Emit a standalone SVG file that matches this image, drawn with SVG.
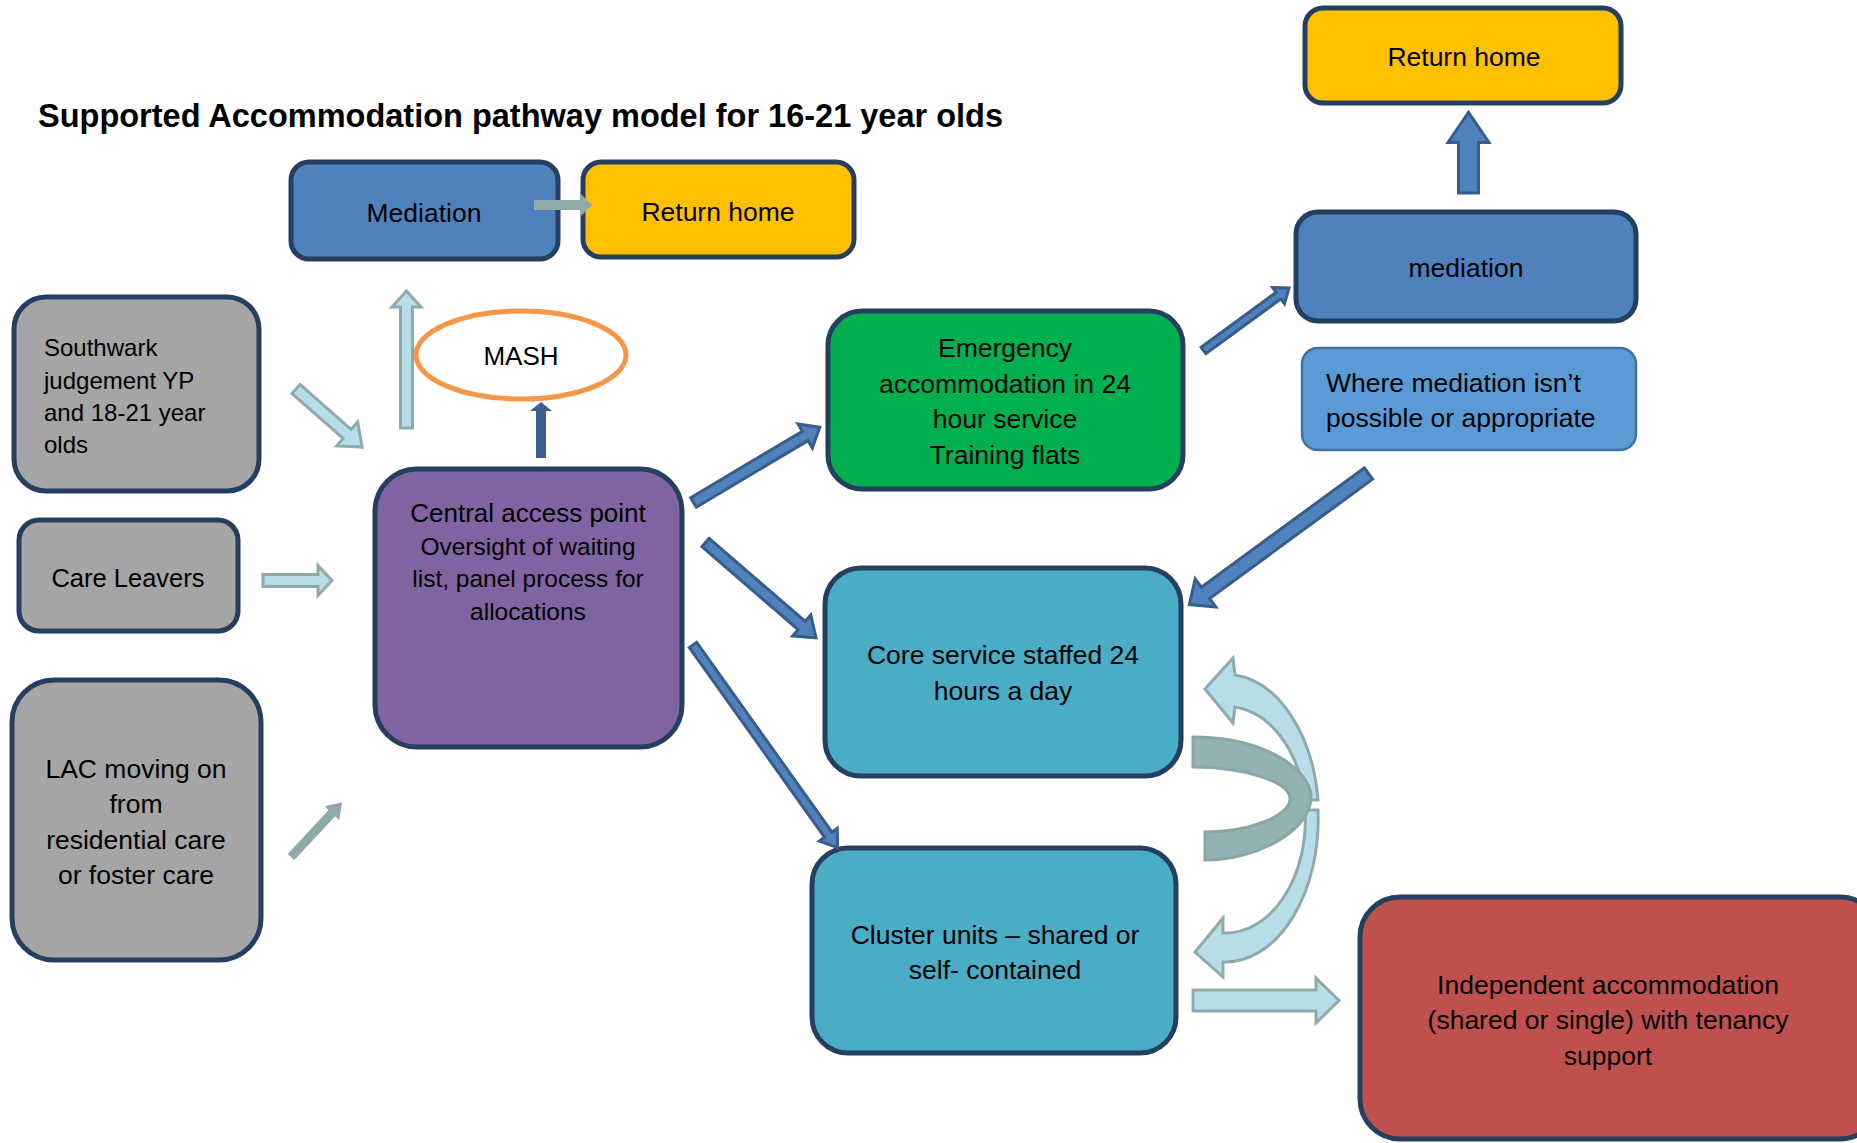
<svg xmlns="http://www.w3.org/2000/svg" width="1857" height="1143" viewBox="0 0 1857 1143">
<style>
.box{stroke:#243F60;stroke-width:5}
.t{font-family:"Liberation Sans",Arial,sans-serif;font-size:26.5px;fill:#000}
.c{text-anchor:middle}
.s24{font-size:24px}
.s245{font-size:24.5px}
.s255{font-size:25.5px}
.s26{font-size:26px}
.light{fill:#B7DEE8;stroke:#8FAAAB;stroke-width:3;stroke-linejoin:miter}
.blue{fill:#4F81BD;stroke:#385D8A;stroke-width:3;stroke-linejoin:miter}
.navy{fill:#3B5E8C}
.gray{fill:#8EA9AA}
.band{fill:#95B2B3;stroke:#8AA6A7;stroke-width:3}
</style>
<rect width="1857" height="1143" fill="#FFFFFF"/>
<text x="38" y="127" font-family="Liberation Sans,Arial,sans-serif" font-weight="bold" font-size="32.5">Supported Accommodation pathway model for 16-21 year olds</text>

<g id="node-mediation-left">
<rect class="box" x="291" y="162" width="267" height="97" rx="18" fill="#4F81BD"/>
<text class="t c" x="424" y="222">Mediation</text>
</g>
<g id="node-return-home-left">
<rect class="box" x="583" y="162" width="271" height="95" rx="18" fill="#FFC000"/>
<text class="t c" x="718" y="221">Return home</text>
</g>
<g id="node-return-home-right">
<rect class="box" x="1305" y="8" width="316" height="95" rx="18" fill="#FFC000"/>
<text class="t c" x="1464" y="66">Return home</text>
</g>
<g id="node-mediation-right">
<rect class="box" x="1296" y="212" width="340" height="109" rx="22" fill="#4F81BD"/>
<text class="t c" x="1466" y="277">mediation</text>
</g>
<g id="node-where-mediation">
<rect x="1302" y="348" width="334" height="102" rx="16" fill="#5B9BD5" stroke="#41719C" stroke-width="2.5"/>
<text class="t" x="1326" y="392">Where mediation isn’t</text>
<text class="t" x="1326" y="427">possible or appropriate</text>
</g>
<g id="node-southwark">
<rect class="box" x="14" y="297" width="245" height="194" rx="32" fill="#A5A5A5"/>
<text class="t s24" x="44" y="356">Southwark</text>
<text class="t s24" x="44" y="389">judgement YP</text>
<text class="t s24" x="44" y="421">and 18-21 year</text>
<text class="t s24" x="44" y="453">olds</text>
</g>
<g id="node-care-leavers">
<rect class="box" x="19" y="520" width="219" height="111" rx="20" fill="#A5A5A5"/>
<text class="t c s255" x="128" y="587">Care Leavers</text>
</g>
<g id="node-lac">
<rect class="box" x="12" y="680" width="249" height="280" rx="42" fill="#A5A5A5"/>
<text class="t c" x="136" y="778">LAC moving on</text>
<text class="t c" x="136" y="813">from</text>
<text class="t c" x="136" y="849">residential care</text>
<text class="t c" x="136" y="884">or foster care</text>
</g>
<g id="node-mash">
<ellipse cx="521" cy="355" rx="105" ry="44" fill="#FFFFFF" stroke="#F79646" stroke-width="5"/>
<text class="t c s26" x="521" y="365">MASH</text>
</g>
<g id="node-central">
<rect class="box" x="375" y="469" width="307" height="278" rx="42" fill="#8064A2"/>
<text class="t c s26" x="528" y="522">Central access point</text>
<text class="t c s245" x="528" y="555">Oversight of waiting</text>
<text class="t c s245" x="528" y="587">list, panel process for</text>
<text class="t c s245" x="528" y="620">allocations</text>
</g>
<g id="node-emergency">
<rect class="box" x="828" y="311" width="355" height="178" rx="34" fill="#00B050"/>
<text class="t c" x="1005" y="357">Emergency</text>
<text class="t c" x="1005" y="393">accommodation in 24</text>
<text class="t c" x="1005" y="428">hour service</text>
<text class="t c" x="1005" y="464">Training flats</text>
</g>
<g id="node-core">
<rect class="box" x="825" y="568" width="356" height="208" rx="36" fill="#4BACC6"/>
<text class="t c" x="1003" y="664">Core service staffed 24</text>
<text class="t c" x="1003" y="700">hours a day</text>
</g>
<g id="node-cluster">
<rect class="box" x="812" y="848" width="364" height="205" rx="36" fill="#4BACC6"/>
<text class="t c" x="995" y="944">Cluster units – shared or</text>
<text class="t c" x="995" y="979">self- contained</text>
</g>
<g id="node-independent">
<rect class="box" x="1360" y="897" width="520" height="242" rx="40" fill="#C0504D"/>
<text class="t c" x="1608" y="994">Independent accommodation</text>
<text class="t c" x="1608" y="1029">(shared or single) with tenancy</text>
<text class="t c" x="1608" y="1065">support</text>
</g>

<g id="connectors">
<polygon class="gray" points="0,-5 47,-5 47,-11 58,0 47,11 47,5 0,5" transform="translate(534,205)"/>
<polygon class="light" points="0,-6 68,-6 68,-16 88,0 68,16 68,6 0,6" transform="translate(296,389) rotate(41.3)"/>
<polygon class="light" points="0,-6 55,-6 55,-15 69,0 55,15 55,6 0,6" transform="translate(263,580.5)"/>
<polygon class="gray" points="0,-4.5 60,-4.5 60,-10 75,0 60,10 60,4.5 0,4.5" transform="translate(291,857) rotate(-47)"/>
<polygon class="light" points="0,-6 121,-6 121,-14.5 137,0 121,14.5 121,6 0,6" transform="translate(406.5,428) rotate(-90)"/>
<polygon class="navy" points="0,-5 47,-5 47,-11 56,0 47,11 47,5 0,5" transform="translate(541,458) rotate(-90)"/>
<polygon class="blue" points="0,-5.5 130,-5.5 130,-14 147,0 130,14 130,5.5 0,5.5" transform="translate(693.5,502.5) rotate(-30.8)"/>
<polygon class="blue" points="0,-5.5 127,-5.5 127,-14 146,0 127,14 127,5.5 0,5.5" transform="translate(705.5,542.5) rotate(40.8)"/>
<polygon class="blue" points="0,-4.5 233,-4.5 233,-11 249,0 233,11 233,4.5 0,4.5" transform="translate(693,645) rotate(54.5)"/>
<polygon class="blue" points="0,-4 93,-4 93,-10 106,0 93,10 93,4 0,4" transform="translate(1203.5,350.5) rotate(-36.2)"/>
<polygon class="blue" points="0,-7 202,-7 202,-17.5 222,0 202,17.5 202,7 0,7" transform="translate(1368.5,473.5) rotate(143.8)"/>
<polygon class="blue" points="0,-10 50.5,-10 50.5,-20.5 80.5,0 50.5,20.5 50.5,10 0,10" transform="translate(1468.5,193) rotate(-90)"/>
<polygon class="light" points="0,-10.5 123,-10.5 123,-22.5 146,0 123,22.5 123,10.5 0,10.5" transform="translate(1193,1000.5)"/>
<path class="light" d="M1235,675 L1233,658 L1205,689 L1233,723 L1235,707 A80,113 0 0 1 1305,800 L1318,800 A93,143 0 0 0 1235,675 Z"/>
<path class="light" d="M1223,933 L1223,918 L1195,952 L1223,977 L1223,962 A93,143 0 0 0 1318,810 L1305,810 A80,113 0 0 1 1223,933 Z"/>
<path class="band" d="M1193,737 C1265,737 1311,770 1311,797 C1311,830 1258,860 1205,860 L1205,832 C1252,832 1290,815 1290,799 C1290,782 1245,767 1193,767 Z"/>
</g>
</svg>
